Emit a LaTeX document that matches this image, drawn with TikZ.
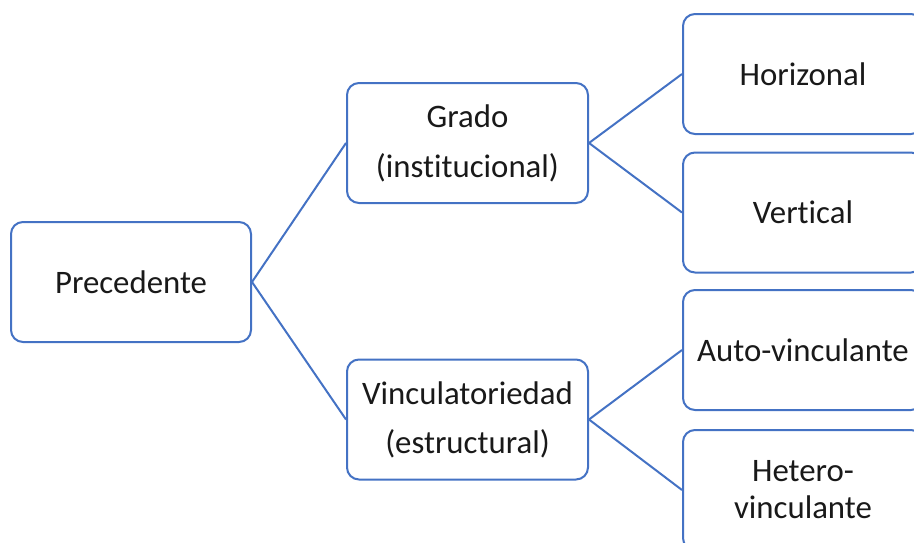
\documentclass[tikz,border=0pt]{standalone}
\usepackage{fontspec}
\setmainfont[Ligatures=NoCommon]{Carlito}
\definecolor{boxblue}{HTML}{4472C4}
\begin{document}
\begin{tikzpicture}[x=1pt,y=-1pt,
  box/.style={draw=boxblue, line width=2pt, fill=white, rounded corners=12pt,
    minimum width=240pt, minimum height=120pt, inner sep=0pt, align=center,
    font=\fontsize{32.8}{37}\selectfont, text=black!90},
  link/.style={draw=boxblue, line width=2pt}]
\useasboundingbox (0,0) rectangle (914,542);
\clip (0,0) rectangle (914,542);
\node[box] (prec) at (131,282) {Precedente};
\node[box, minimum width=241pt] (grado) at (467.5,143) {Grado\\[13pt](institucional)};
\node[box, minimum width=241pt] (vinc) at (467.5,419.5) {Vinculatoriedad\\[12pt](estructural)};
\node[box] (hor) at (803,74) {Horizonal};
\node[box] (ver) at (803,212.5) {Vertical};
\node[box] (auto) at (803,350) {Auto-vinculante};
\node[box] (het) at (803,490) {Hetero-\\vinculante};
\draw[link] (prec.east) -- (grado.west);
\draw[link] (prec.east) -- (vinc.west);
\draw[link] (grado.east) -- (hor.west);
\draw[link] (grado.east) -- (ver.west);
\draw[link] (vinc.east) -- (auto.west);
\draw[link] (vinc.east) -- (het.west);
\end{tikzpicture}
\end{document}
